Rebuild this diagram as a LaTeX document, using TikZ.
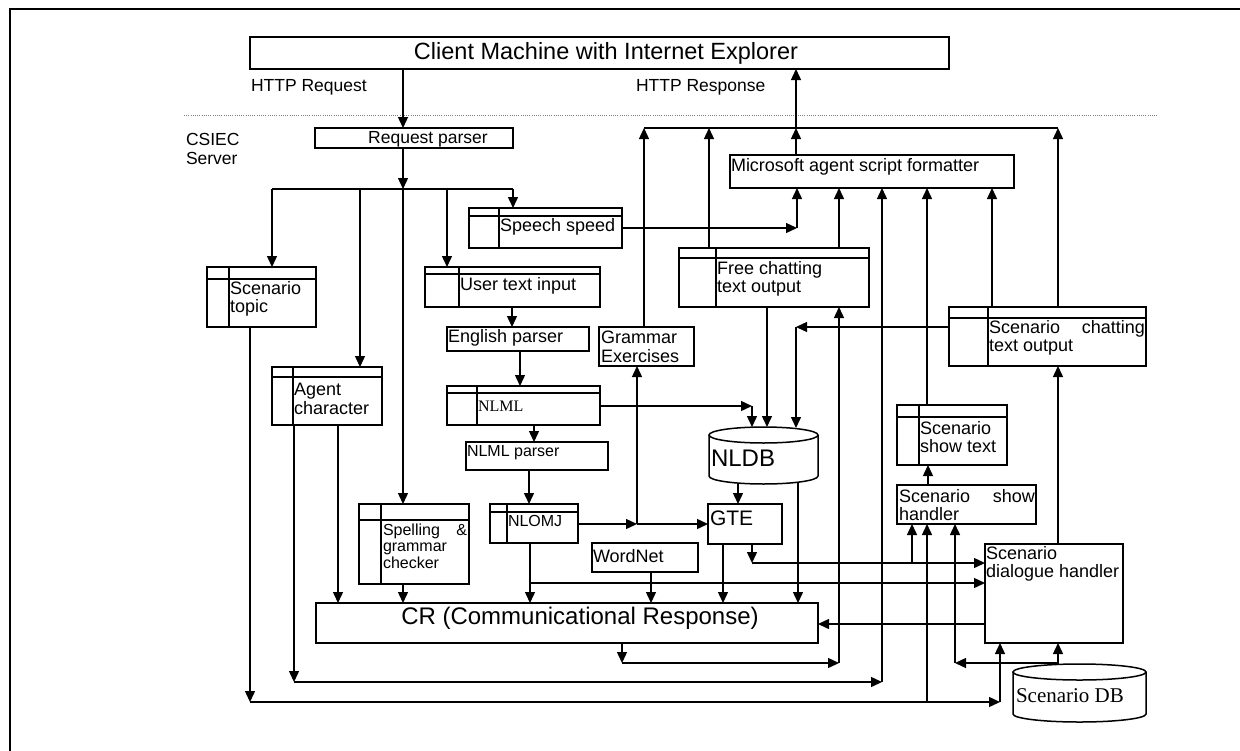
\documentclass[tikz,border=0pt]{standalone}
\usepackage{fontspec}
\setmainfont{Liberation Sans}
\newfontfamily\serifface{Liberation Serif}
\usetikzlibrary{arrows.meta,fit}
\newcommand{\fsz}[2]{\fontsize{#1pt}{#2pt}\selectfont}
% plain rectangle node spanning two corners
\newcommand{\plainbox}[5]{\node[box, fit={(#2,#3) (#4,#5)}] (#1) {};}
% data-store style box: rectangle, header strip and left divider
\newcommand{\tablebox}[7]{%
  \node[box, fit={(#2,#3) (#4,#5)}] (#1) {};
  \draw[boxline] (#6,#3) -- (#6,#5) (#2,#7) -- (#4,#7);}
\begin{document}
\begin{tikzpicture}[x=1pt,y=-1pt,
  box/.style={draw, line width=1.5pt, inner sep=0pt, outer sep=0pt},
  boxline/.style={draw, line width=1.5pt},
  txt/.style={anchor=west, inner sep=0pt, outer sep=0pt, align=left, font=\fsz{18}{18.5}},
  wire/.style={line width=1.4pt},
  arr/.style={line width=1.4pt, -{Triangle[length=11pt,width=10pt]}}]
\useasboundingbox (0,0) rectangle (1240,750);
\fill[white] (0,0) rectangle (1240,750);

% outer frame
\draw[line width=2.6pt] (10,760) -- (10,9) -- (1250,9);
% client / server separator
\draw[gray, line width=0.9pt, dash pattern=on 1pt off 1.2pt] (184,115) -- (1158,115);

% ---------- boxes ----------
\plainbox{client}{250}{37}{949}{69}
\plainbox{reqp}{315}{128}{513}{148}
\tablebox{speech}{469}{208}{622}{248}{499}{216}
\tablebox{topic}{207}{267}{316}{327}{229}{279}
\tablebox{usert}{425}{267}{600}{307}{459}{274}
\tablebox{agent}{272}{367}{382}{425}{293}{377}
\plainbox{english}{447}{327}{589}{351}
\tablebox{nlml}{447}{386}{600}{425}{477}{393}
\plainbox{nlmlp}{466}{442}{608}{470}
\tablebox{nlomj}{490}{504}{578}{543}{507}{512}
\tablebox{spell}{359}{504}{469}{584}{381}{520}
\plainbox{grammar}{599}{327}{694}{366}
\plainbox{formatter}{730}{155}{1014}{188}
\tablebox{freechat}{679}{248}{869}{307}{716}{258}
\tablebox{scenchat}{949}{307}{1146}{366}{988}{318}
\tablebox{showtext}{897}{405}{1007}{465}{919}{417}
\plainbox{showh}{897}{485}{1036}{524}
\plainbox{dialog}{985}{544}{1123}{643}
\plainbox{wordnet}{592}{543}{698}{572}
\plainbox{gte}{708}{504}{782}{544}
\plainbox{cr}{316}{603}{818}{643}

% cylinders (databases)
\node[inner sep=0pt, outer sep=0pt, fit={(709,427) (818,484)}] (nldb) {};
\draw[boxline] (763.5,435) ellipse [x radius=54.5pt, y radius=8pt];
\draw[boxline] (709,435) -- (709,476) arc[start angle=180, end angle=360, x radius=54.5pt, y radius=8pt] -- (818,435);
\node[inner sep=0pt, outer sep=0pt, fit={(1013,664) (1146,722)}] (sdb) {};
\draw[boxline] (1079.5,672) ellipse [x radius=66.5pt, y radius=8pt];
\draw[boxline] (1013,672) -- (1013,714) arc[start angle=180, end angle=360, x radius=66.5pt, y radius=8pt] -- (1146,672);

% ---------- texts ----------
\node[txt, anchor=center, font=\fsz{23.5}{24}] (t-client) at (606,53) {Client Machine with Internet Explorer};
\node[txt, font=\fsz{17.5}{18}] (t-req) at (251,87) {HTTP Request};
\node[txt, font=\fsz{17.5}{18}] (t-resp) at (636,87) {HTTP Response};
\node[txt, font=\fsz{17.5}{19}] (t-csiec) at (186,149) {CSIEC\\Server};
\node[txt, anchor=center, font=\fsz{17.5}{18}] (t-reqp) at (428,139) {Request parser};
\node[txt] (t-speech) at (500,227) {Speech speed};
\node[txt] (t-topic) at (230,299) {Scenario\\topic};
\node[txt] (t-agent) at (294,399) {Agent\\character};
\node[txt] (t-usert) at (460,286) {User text input};
\node[txt] (t-english) at (448,338) {English parser};
\node[txt, font=\serifface\fsz{16}{16}] (t-nlml) at (478,406) {NLML};
\node[txt, font=\fsz{16}{16}] (t-nlmlp) at (467,453) {NLML parser};
\node[txt, font=\fsz{16}{16}] (t-nlomj) at (508,521) {NLOMJ};
\node[txt, font=\fsz{16}{16.5}] (t-spell) at (383,546) {\makebox[84pt][s]{Spelling \&}\\grammar\\checker};
\node[txt] (t-grammar) at (601,347) {Grammar\\Exercises};
\node[txt] (t-formatter) at (731,167) {Microsoft agent script formatter};
\node[txt] (t-free) at (717,279) {Free chatting\\text output};
\node[txt] (t-scenchat) at (989,338) {\makebox[156pt][s]{Scenario chatting}\\text output};
\node[txt] (t-showtext) at (920,437) {Scenario\\show text};
\node[txt] (t-showh) at (899,505) {\makebox[136pt][s]{Scenario show}\\handler};
\node[txt] (t-dialog) at (986,564) {Scenario\\dialogue handler};
\node[txt] (t-wordnet) at (593,556) {WordNet};
\node[txt, font=\fsz{21}{21}] (t-gte) at (710,518) {GTE};
\node[txt, anchor=center, font=\fsz{24}{24}] (t-cr) at (580,618) {CR (Communicational Response)};
\node[txt, font=\fsz{24}{24}] (t-nldb) at (711,458) {NLDB};
\node[txt, font=\serifface\fsz{21}{21}] (t-sdb) at (1016,696) {Scenario DB};

% ---------- connectors ----------
% request path
\draw[arr] (client.south -| 403,0) -- (reqp.north -| 403,0);
\coordinate (busA) at (403,189);
\coordinate (busL) at (272,189);
\coordinate (busR) at (513,189);
\draw[arr] (reqp.south -| busA) -- (busA);
\draw[wire] (busL) -- (busR);
\draw[arr] (busL) -- (busL |- topic.north);
\draw[arr] (busL -| 360,0) -- (agent.north -| 360,0);
\draw[arr] (busA) -- (spell.north -| busA);
\draw[arr] (busL -| 447,0) -- (usert.north -| 447,0);
\draw[arr] (busR) -- (speech.north -| busR);

% parsing chain
\draw[arr] (usert.south -| 512,0) -- (english.north -| 512,0);
\draw[arr] (english.south -| 520,0) -- (nlml.north -| 520,0);
\draw[arr] (nlml.south -| 534,0) -- (nlmlp.north -| 534,0);
\draw[arr] (nlmlp.south -| 529,0) -- (nlomj.north -| 529,0);

% into NLDB
\coordinate (nlmlc) at (752,406);
\draw[arr] (nlml.east |- nlmlc) -- (nlmlc);
\draw[arr] (nlmlc) -- (nlmlc |- nldb.north);
\draw[arr] (freechat.south -| 767,0) -- (nldb.north -| 767,0);
\coordinate (scc) at (796,327);
\draw[arr] (scenchat.west |- scc) -- (scc);
\draw[arr] (scc) -- (796,428);
\draw[arr] (nldb.south -| 738,0) -- (gte.north -| 738,0);
\draw[arr] (798,482) -- (cr.north -| 798,0);

% NLOMJ to GTE and Grammar Exercises
\coordinate (gj) at (637,524);
\draw[arr] (nlomj.east |- gj) -- (gj);
\draw[arr] (gj) -- (gte.west |- gj);
\draw[arr] (gj) -- (grammar.south -| gj);

% response bus to the client
\coordinate (tbL) at (644,128);
\coordinate (tbM) at (796,128);
\coordinate (tbR) at (1058,128);
\draw[wire] (tbL) -- (tbR);
\draw[arr] (grammar.north -| tbL) -- (tbL);
\draw[arr] (freechat.north -| 709,0) -- (tbL -| 709,0);
\draw[arr] (formatter.north -| tbM) -- (tbM);
\draw[arr] (tbM) -- (client.south -| tbM);
\draw[arr] (scenchat.north -| tbR) -- (tbR);

% into the script formatter
\coordinate (spc) at (797,228);
\draw[arr] (speech.east |- spc) -- (spc);
\draw[arr] (spc) -- (formatter.south -| spc);
\draw[arr] (freechat.north -| 839,0) -- (formatter.south -| 839,0);
\draw[arr] (showtext.north -| 927,0) -- (formatter.south -| 927,0);
\draw[arr] (scenchat.north -| 992,0) -- (formatter.south -| 992,0);

% agent character
\coordinate (ag1) at (294,682);
\coordinate (ag2) at (882,682);
\draw[arr] (agent.south -| ag1) -- (ag1);
\draw[arr] (ag1) -- (ag2);
\draw[arr] (ag2) -- (formatter.south -| ag2);
\draw[arr] (agent.south -| 338,0) -- (cr.north -| 338,0);

% into CR
\draw[arr] (spell.south -| busA) -- (cr.north -| busA);
\draw[arr] (nlomj.south -| 530,0) -- (cr.north -| 530,0);
\coordinate (nj) at (530,583);
\draw[arr] (nj) -- (dialog.west |- nj);
\draw[arr] (wordnet.south -| 651,0) -- (cr.north -| 651,0);
\draw[arr] (gte.south -| 723,0) -- (cr.north -| 723,0);
\coordinate (gc) at (752,563);
\draw[arr] (gte.south -| gc) -- (gc);
\draw[arr] (gc) -- (dialog.west |- gc);
\draw[arr] (gc -| 912,0) -- (showh.south -| 912,0);
\draw[arr] (showh.north -| 928,0) -- (showtext.south -| 928,0);
\draw[arr] (dialog.north -| tbR) -- (scenchat.south -| tbR);
\draw[arr] (dialog.west |- 0,624) -- (cr.east |- 0,624);

% CR back to free chatting output
\coordinate (cr1) at (622,663);
\coordinate (cr2) at (839,663);
\draw[arr] (cr.south -| cr1) -- (cr1);
\draw[arr] (cr1) -- (cr2);
\draw[arr] (cr2) -- (freechat.south -| cr2);

% scenario topic
\coordinate (st1) at (250,702);
\coordinate (st2) at (1000,702);
\draw[arr] (topic.south -| st1) -- (st1);
\draw[arr] (st1) -- (st2);
\draw[arr] (st2) -- (dialog.south -| st2);
\draw[arr] (st1 -| 927,0) -- (showh.south -| 927,0);

% scenario DB
\coordinate (db1) at (1058,663);
\coordinate (db2) at (955,663);
\draw[arr] (sdb.north -| db1) -- (dialog.south -| db1);
\draw[arr] (db1) -- (db2);
\draw[arr] (db2) -- (showh.south -| db2);
\end{tikzpicture}
\end{document}
